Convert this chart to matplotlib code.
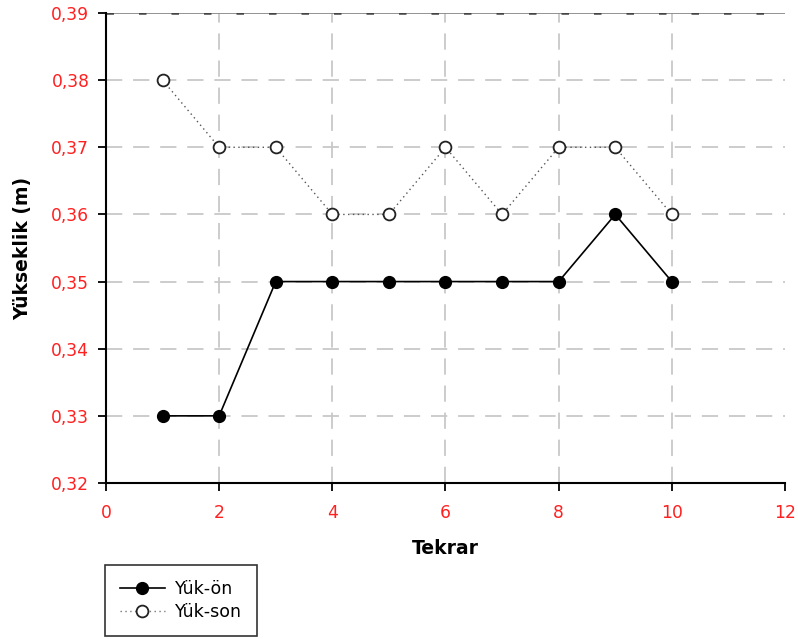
import matplotlib
matplotlib.use("Agg")
import matplotlib.pyplot as plt
from matplotlib.lines import Line2D

plt.rcParams['font.family'] = ['DejaVu Sans']

tekrar = [1, 2, 3, 4, 5, 6, 7, 8, 9, 10]
yuk_on = [0.33, 0.33, 0.35, 0.35, 0.35, 0.35, 0.35, 0.35, 0.36, 0.35]
yuk_son = [0.38, 0.37, 0.37, 0.36, 0.36, 0.37, 0.36, 0.37, 0.37, 0.36]
xticks = [0, 2, 4, 6, 8, 10, 12]
yticks = [0.32, 0.33, 0.34, 0.35, 0.36, 0.37, 0.38, 0.39]
ytick_labels = ['0,32', '0,33', '0,34', '0,35', '0,36', '0,37', '0,38', '0,39']

W, H = 798, 639
fig = plt.figure(figsize=(W / 100, H / 100), dpi=100)
ax = fig.add_axes([106 / W, 1 - 483 / H, (785 - 106) / W, (483 - 13) / H])

ax.set_xlim(0, 12)
ax.set_ylim(0.32, 0.39)
ax.set_xticks(xticks)
ax.set_yticks(yticks)
ax.set_yticklabels(ytick_labels)

for yv in yticks[1:-1]:
    ax.axhline(yv, color='#c8c8c8', lw=1.3, dashes=(9, 6), zorder=0)
for xv in xticks[1:-1]:
    ax.axvline(xv, color='#c8c8c8', lw=1.3, dashes=(9, 6), zorder=0)
ax.axhline(0.39, color='#8a8a8a', lw=1.3, zorder=1)
ax.axhline(0.39, color='#444444', lw=1.8, dashes=(3, 10), zorder=1)

ax.plot(tekrar, yuk_on, color='black', lw=1.2, marker='o', ms=8.5,
        markerfacecolor='black', markeredgecolor='black', zorder=3, clip_on=False)
ax.plot(tekrar, yuk_son, color='#555555', lw=1.0, ls=(0, (1, 2.5)), marker='o', ms=8.5,
        markerfacecolor='white', markeredgecolor='#222222', markeredgewidth=1.3,
        zorder=3, clip_on=False)

for s in ['top', 'right']:
    ax.spines[s].set_visible(False)
ax.spines['left'].set_linewidth(1.5)
ax.spines['bottom'].set_linewidth(1.5)
ax.tick_params(axis='both', direction='out', length=6, width=1.3, colors='black',
               labelcolor='#ff2020', labelsize=12.3)
ax.tick_params(axis='x', pad=9)
ax.tick_params(axis='y', pad=6)

ax.set_xlabel('Tekrar', fontsize=13.5, fontweight='bold', labelpad=12)
ax.set_ylabel('Yükseklik (m)', fontsize=13.5, fontweight='bold', labelpad=14)

handles = [
    Line2D([], [], color='black', lw=1.2, marker='o', ms=8.5,
           markerfacecolor='black', markeredgecolor='black'),
    Line2D([], [], color='#777777', lw=1.0, ls=(0, (1, 2.5)), marker='o', ms=8.5,
           markerfacecolor='white', markeredgecolor='#222222', markeredgewidth=1.3),
]
leg = fig.legend(handles, ['Yük-ön', 'Yük-son'], loc='lower left',
                 bbox_to_anchor=(105 / W, 1 - 636 / H), fontsize=12.5,
                 frameon=True, fancybox=False, edgecolor='black',
                 handlelength=2.6, handletextpad=0.6, borderpad=0.85,
                 labelspacing=0.3, borderaxespad=0)
leg.get_frame().set_linewidth(1.2)

fig.savefig('out.png', dpi=100)
